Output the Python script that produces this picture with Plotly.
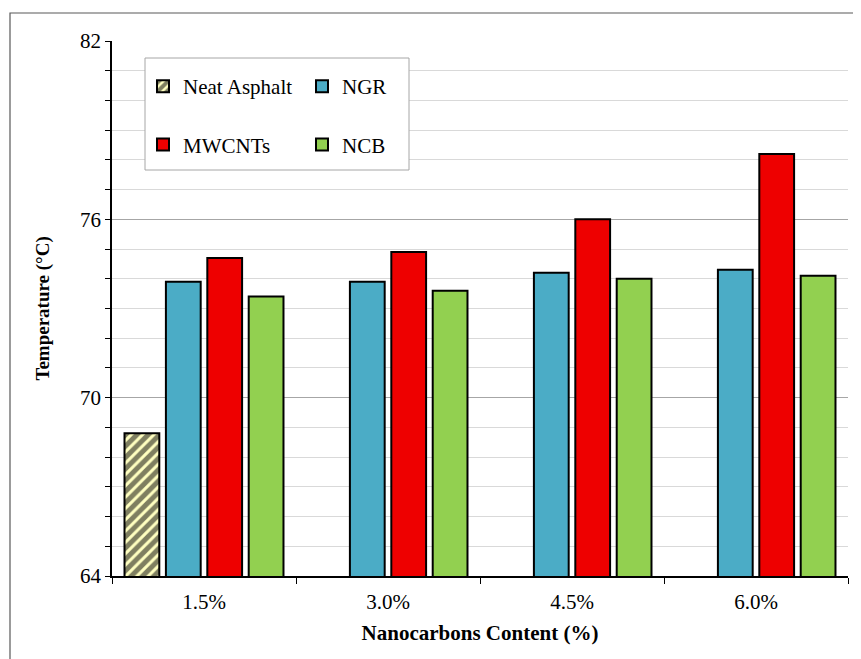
import plotly.graph_objects as go

categories = ["1.5%", "3.0%", "4.5%", "6.0%"]
neat_asphalt = [68.8, None, None, None]
ngr = [73.9, 73.9, 74.2, 74.3]
mwcnts = [74.7, 74.9, 76.0, 78.2]
ncb = [73.4, 73.6, 74.0, 74.1]

FONT = "Liberation Serif, Times New Roman, serif"
OFF = 8  # page body margin offset
W, H = 861, 659
SL, SR, ST, SB = 112, 848, 41, 576
L, T = SL - OFF, ST - OFF
R = W - (SR - OFF)
B = H - (SB - OFF)
PW, PH = W - L - R, H - T - B

def px_x(p):
    return (p - SL) / PW

def px_y(p):
    return (SB - p) / PH

fig = go.Figure()
line = dict(color="black", width=2)
fig.add_trace(go.Bar(
    x=categories, y=neat_asphalt, name="Neat Asphalt", legend="legend", legendgroup="a",
    marker=dict(color="#FFFFC0", line=line,
                pattern=dict(shape="/", fgcolor="black", bgcolor="#FFFFC0", size=8, solidity=0.62)),
))
fig.add_trace(go.Bar(x=categories, y=ngr, name="NGR", legend="legend2", legendgroup="b",
                     marker=dict(color="#4BACC6", line=line)))
fig.add_trace(go.Bar(x=categories, y=mwcnts, name="MWCNTs", legend="legend", legendgroup="c",
                     marker=dict(color="#EE0000", line=line)))
fig.add_trace(go.Bar(x=categories, y=ncb, name="NCB", legend="legend2", legendgroup="d",
                     marker=dict(color="#92D050", line=line)))

shapes = [
    dict(type="rect", xref="paper", yref="paper", x0=px_x(10), x1=px_x(900), y0=px_y(700), y1=px_y(13),
         line=dict(color="#595959", width=1.2), fillcolor="rgba(0,0,0,0)", layer="below"),
    dict(type="rect", xref="paper", yref="paper", x0=px_x(145), x1=px_x(409), y0=px_y(170), y1=px_y(58),
         line=dict(color="#A6A6A6", width=1), fillcolor="white", layer="above"),
]

legend_common = dict(font=dict(family=FONT, size=21, color="black"), bgcolor="rgba(0,0,0,0)",
                     borderwidth=0, xanchor="left", yanchor="top", tracegroupgap=28,
                     orientation="v", itemclick=False, itemwidth=30)

fig.update_layout(
    width=W, height=H,
    margin=dict(l=L, r=R, t=T, b=B, autoexpand=False),
    paper_bgcolor="white", plot_bgcolor="white",
    barmode="group", bargap=0.1, bargroupgap=0.16,
    font=dict(family=FONT, size=20, color="black"),
    shapes=shapes,
    legend=dict(x=px_x(143), y=px_y(66), **legend_common),
    legend2=dict(x=px_x(302), y=px_y(66), **legend_common),
    annotations=[dict(text="<b>Temperature (°C)</b>", xref="paper", yref="paper",
                      x=px_x(42), y=0.5, xanchor="center", yanchor="middle", textangle=-90,
                      showarrow=False, font=dict(family=FONT, size=19, color="black"))],
    xaxis=dict(
        type="category", showline=True, linecolor="black", linewidth=1.5,
        ticks="outside", tickson="boundaries", ticklen=6, tickcolor="black", tickwidth=1.2,
        tickfont=dict(family=FONT, size=21), showgrid=False, ticklabelstandoff=6,
        title=dict(text="<b>Nanocarbons Content (%)</b>", font=dict(family=FONT, size=21), standoff=12),
    ),
    yaxis=dict(
        range=[64, 82], dtick=6, tick0=64, showline=True, linecolor="black", linewidth=1.5,
        ticks="outside", ticklen=5, tickcolor="black", tickwidth=1.2,
        gridcolor="#A6A6A6", gridwidth=1.2, zeroline=False,
        tickfont=dict(family=FONT, size=21),
        minor=dict(dtick=1, showgrid=True, gridcolor="#D9D9D9", gridwidth=1.2,
                   ticks="outside", ticklen=5, tickcolor="black", tickwidth=1.2),
    ),
)

fig.write_html("out.html")
